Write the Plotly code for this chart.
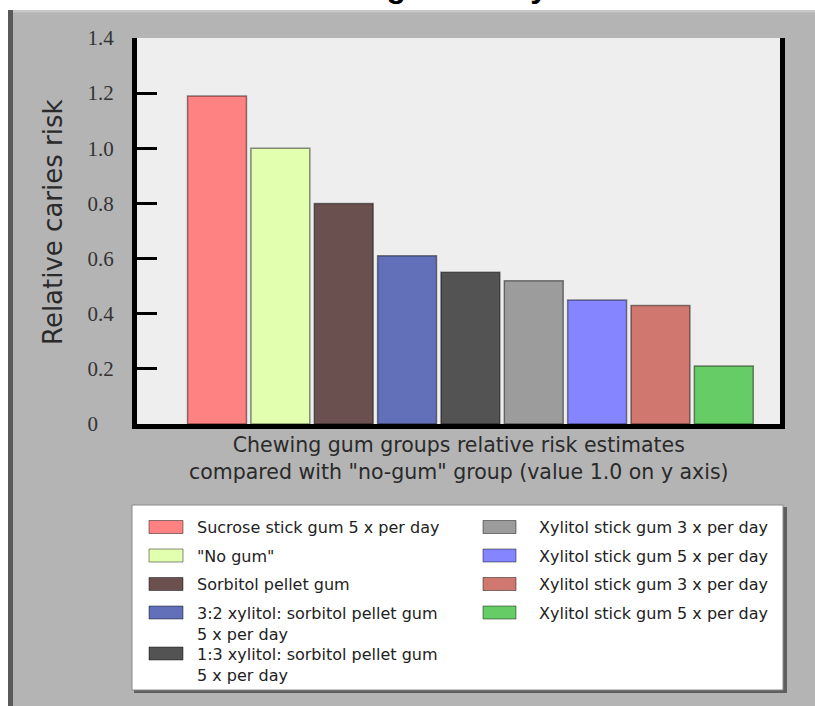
import plotly.graph_objects as go

# Chewing gum groups and their relative caries risk (no gum = 1.0)
groups = [
    "Sucrose stick gum 5 x per day",
    "\"No gum\"",
    "Sorbitol pellet gum",
    "3:2 xylitol: sorbitol pellet gum<br>5 x per day",
    "1:3 xylitol: sorbitol pellet gum<br>5 x per day",
    "Xylitol stick gum 3 x per day",
    "Xylitol stick gum 5 x per day",
    "Xylitol stick gum 3 x per day",
    "Xylitol stick gum 5 x per day",
]
relative_risk = [1.19, 1.00, 0.80, 0.61, 0.55, 0.52, 0.45, 0.43, 0.21]
bar_colors = ["#ff8282", "#e2ffb0", "#6b5050", "#6170b8", "#535353",
              "#9c9c9c", "#8585ff", "#d07870", "#66cc66"]
y_ticks = [0, 0.2, 0.4, 0.6, 0.8, 1.0, 1.2, 1.4]
y_tick_text = ["0\u2008\u2007", "0.2", "0.4", "0.6", "0.8", "1.0", "1.2", "1.4"]

W, H = 815, 706
L, R, T, B = 137, 35, 38, 282
PW, PH = W - L - R, H - T - B


def px(x):
    return (x - L) / PW


def py(y):
    return (H - B - y) / PH


positions = list(range(len(groups)))

fig = go.Figure(go.Bar(
    x=positions,
    y=relative_risk,
    width=0.93,
    marker=dict(color=bar_colors, line=dict(color="rgba(0,0,0,0.45)", width=1.5)),
    hovertext=[g.replace("<br>", " ") for g in groups],
    hoverinfo="text+y",
    showlegend=False,
))

shapes = [
    # grey panel edges
    dict(type="rect", xref="paper", yref="paper", x0=px(0), x1=px(W), y0=py(0), y1=py(10),
         fillcolor="white", line_width=0, layer="below"),
    dict(type="rect", xref="paper", yref="paper", x0=px(0), x1=px(8), y0=py(10), y1=py(H),
         fillcolor="white", line_width=0, layer="below"),
    dict(type="rect", xref="paper", yref="paper", x0=px(8), x1=px(13), y0=py(10), y1=py(H),
         fillcolor="#5a5a5a", line_width=0, layer="below"),
    dict(type="rect", xref="paper", yref="paper", x0=px(13), x1=px(W), y0=py(10), y1=py(12.5),
         fillcolor="#c8c8c8", line_width=0, layer="below"),
    # legend box with shadow
    dict(type="rect", xref="paper", yref="paper", x0=px(134), x1=px(787), y0=py(507), y1=py(693),
         fillcolor="#5f5f5f", line_width=0, layer="below"),
    dict(type="rect", xref="paper", yref="paper", x0=px(132), x1=px(783), y0=py(505), y1=py(690),
         fillcolor="white", line=dict(color="#8a8a8a", width=1), layer="below"),
]

annotations = [
    dict(text="<b>Belize gum study</b>", xref="paper", yref="paper", x=px(416), y=py(6),
         xanchor="center", yanchor="bottom", showarrow=False,
         font=dict(family="Liberation Sans", size=32, color="black")),
    dict(text="Relative caries risk", xref="paper", yref="paper", x=px(53), y=py(222),
         xanchor="center", yanchor="middle", textangle=-90, showarrow=False,
         font=dict(family="DejaVu Sans", size=26, color="#2a2a2a")),
    dict(text="Chewing gum groups relative risk estimates<br>"
              "compared with \"no-gum\" group (value 1.0 on y axis)",
         xref="paper", yref="paper", x=0.5, y=py(431), xanchor="center", yanchor="top",
         showarrow=False, font=dict(family="DejaVu Sans", size=20.5, color="#2a2a2a")),
]

# two-column legend: first five groups left, remaining four right
columns = [(0, 5, 149, 183, 195), (5, 9, 483, 516, 537)]
for start, stop, sx0, sx1, tx in columns:
    row_y = 527
    for i in range(start, stop):
        shapes.append(dict(type="rect", xref="paper", yref="paper",
                           x0=px(sx0), x1=px(sx1), y0=py(row_y - 6.5), y1=py(row_y + 6.5),
                           fillcolor=bar_colors[i],
                           line=dict(color="rgba(0,0,0,0.45)", width=1), layer="above"))
        annotations.append(dict(text=groups[i], xref="paper", yref="paper",
                                x=px(tx), y=py(row_y - 11), xanchor="left", yanchor="top",
                                align="left", showarrow=False,
                                font=dict(family="DejaVu Sans", size=16, color="#222222")))
        row_y += 41 if "<br>" in groups[i] else 28.5

fig.update_layout(
    width=W, height=H,
    margin=dict(l=L, r=R, t=T, b=B, pad=0),
    paper_bgcolor="#b4b4b4",
    plot_bgcolor="#eeeeee",
    shapes=shapes,
    annotations=annotations,
    bargap=0.07,
    xaxis=dict(range=[-1.263, 8.887], showticklabels=False, ticks="", showgrid=False,
               zeroline=False, showline=True, linecolor="black", linewidth=5, fixedrange=True),
    yaxis=dict(range=[0, 1.4], tickvals=y_ticks, ticktext=y_tick_text, ticks="inside",
               ticklen=20, tickwidth=3, tickcolor="black", showgrid=False, zeroline=False,
               showline=True, linecolor="black", linewidth=5, mirror=True,
               ticklabelstandoff=14,
               tickfont=dict(family="Liberation Serif", size=21, color="#333333"),
               fixedrange=True),
)

fig.write_html("out.html")
